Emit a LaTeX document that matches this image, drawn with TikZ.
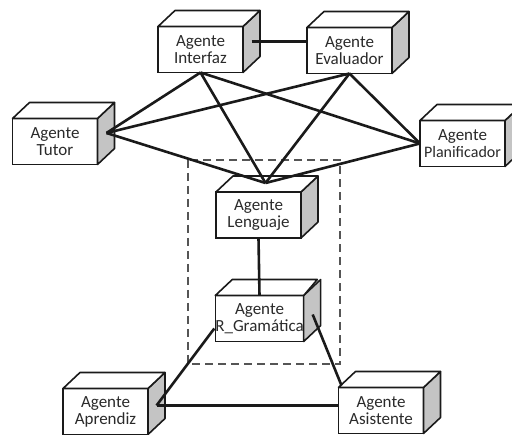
\documentclass[tikz,border=0pt]{standalone}
\usepackage{fontspec}
\setmainfont{Carlito}
\definecolor{sidegray}{HTML}{C4C4C4}
\definecolor{txtgray}{HTML}{2A2A2A}
\definecolor{linegray}{HTML}{1A1A1A}
\definecolor{dashgray}{HTML}{555555}
\tikzset{
  agentfront/.style={draw=linegray, line width=1.6pt, fill=white, minimum width=85pt, minimum height=46pt,
    inner sep=0pt, outer sep=0pt, align=center, text=txtgray, font=\fontsize{17}{17}\selectfont},
  boxline/.style={draw=linegray, line width=1.6pt, line join=round},
  conn/.style={draw=linegray, line width=2.6pt},
  dashbox/.style={draw=dashgray, line width=1.1pt, dash pattern=on 8pt off 5pt}
}
\newcommand\agentbox[4]{%
  \node[agentfront] (#1) at (#2,#3) {#4};
  \draw[boxline, fill=sidegray] (#1.north east) -- ++(17,-16) -- ++(0,46) -- (#1.south east) -- cycle;
  \draw[boxline, fill=white] (#1.north west) -- ++(17,-16) -- ++(85,0) -- (#1.north east) -- cycle;
}
\begin{document}
\begin{tikzpicture}[x=1pt,y=-1pt]
\useasboundingbox (0,0) rectangle (512,435);
\fill[white] (0,0) rectangle (512,435);
\draw[dashbox] (188,160) rectangle (340,364);

\agentbox{interfaz}{200.5}{49.5}{Agente\\Interfaz}
\agentbox{evaluador}{349.5}{50.5}{Agente\\Evaluador}
\agentbox{tutor}{55}{141.5}{Agente\\Tutor}
\agentbox{planif}{462.5}{143.5}{Agente\\{\fontsize{16}{17}\selectfont Planificador}}
\agentbox{lenguaje}{258.5}{215}{Agente\\Lenguaje}
\agentbox{gramatica}{259.5}{318.5}{Agente\\R\_Gramática}
\agentbox{aprendiz}{105.5}{411.5}{Agente\\Aprendiz}
\agentbox{asistente}{381}{410.5}{Agente\\Asistente}

\coordinate (ifside) at ([shift={(8.5,-8)}]interfaz.east);
\coordinate (tutside) at ([shift={(9,-8.5)}]tutor.east);
\coordinate (lentop) at ([shift={(7,-9)}]lenguaje.north);
\coordinate (grside) at ([shift={(9,-4)}]gramatica.east);
\coordinate (grleft) at ([shift={(-1,10)}]gramatica.west);
\coordinate (apside) at ([shift={(8.5,-6)}]aprendiz.east);
\coordinate (asitop) at ([shift={(3,-2)}]asistente.north west);

\draw[conn] (ifside) -- (ifside -| evaluador.west);
\draw[conn] (interfaz.south) -- (tutside);
\draw[conn] (interfaz.south) -- (lentop);
\draw[conn] (interfaz.south) -- (planif.west);
\draw[conn] (evaluador.south) -- (tutside);
\draw[conn] (evaluador.south) -- (lentop);
\draw[conn] (evaluador.south) -- (planif.west);
\draw[conn] (tutside) -- (lentop);
\draw[conn] (planif.west) -- (lentop);
\draw[conn] (lenguaje.south) -- (gramatica.north);
\draw[conn] (grleft) -- (apside);
\draw[conn] (grside) -- (asitop);
\draw[conn] (apside) -- (apside -| asistente.west);
\end{tikzpicture}
\end{document}
